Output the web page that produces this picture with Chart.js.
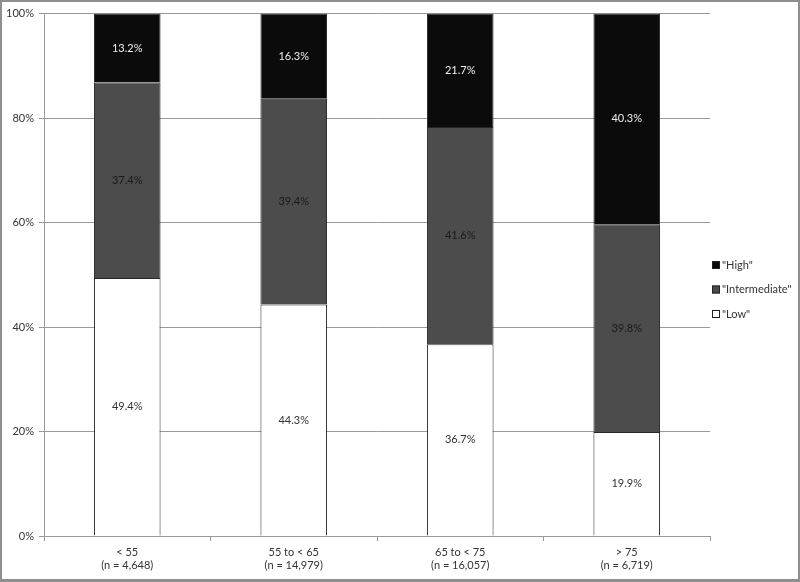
<!DOCTYPE html>
<html>
<head>
<meta charset="utf-8">
<script src="https://cdn.jsdelivr.net/npm/chart.js@4"></script>
<style>
    body { margin: 0; background: #fff; }
    #caixa {
        width: 800px; height: 582px; box-sizing: border-box;
        border: 2px solid #8f8f8f; border-bottom-width: 3px;
    }
</style>
</head>
<body>
<div id="caixa"><canvas id="myChart" width="796" height="577"></canvas></div>
<script>
// faixas etarias
const categorias = [
    ['< 55', '(n = 4,648)'],
    ['55 to < 65', '(n = 14,979)'],
    ['65 to < 75', '(n = 16,057)'],
    ['> 75', '(n = 6,719)']
];
const nomes = ['"Low"', '"Intermediate"', '"High"'];
const baixo = [49.4, 44.3, 36.7, 19.9];
const intermediario = [37.4, 39.4, 41.6, 39.8];
const alto = [13.2, 16.3, 21.7, 40.3];
const ticksY = [0, 20, 40, 60, 80, 100];

const fonte = "'Lato', 'Open Sans', sans-serif";

// escreve o valor no meio de cada pedaco da barra
const rotulos = {
    id: 'rotulos',
    afterDatasetsDraw(chart) {
        const ctx = chart.ctx;
        ctx.save();
        ctx.font = '11px ' + fonte;
        ctx.textAlign = 'center';
        ctx.textBaseline = 'middle';
        chart.data.datasets.forEach(function(ds, i) {
            chart.getDatasetMeta(i).data.forEach(function(bar, j) {
                const meio = (bar.y + bar.base) / 2;
                ctx.fillStyle = ds.corTexto;
                ctx.fillText(ds.data[j].toFixed(1) + '%', bar.x, meio);
            });
        });
        ctx.restore();
    }
};

// legenda desenhada a mao, a direita
const legenda = {
    id: 'legenda',
    afterDraw(chart) {
        const ctx = chart.ctx;
        ctx.save();
        ctx.font = '11px ' + fonte;
        ctx.textBaseline = 'middle';
        const x = chart.chartArea.right + 2;
        let y = 263;
        for (let i = chart.data.datasets.length - 1; i >= 0; i--) {
            const ds = chart.data.datasets[i];
            ctx.fillStyle = ds.backgroundColor;
            ctx.fillRect(x, y - 4, 8, 8);
            ctx.strokeStyle = '#222';
            ctx.lineWidth = 1;
            ctx.strokeRect(x + 0.5, y - 3.5, 7, 7);
            ctx.fillStyle = '#333';
            ctx.fillText(ds.label, x + 10, y);
            y += 24.5;
        }
        ctx.restore();
    }
};

const data = {
    labels: categorias,
    datasets: [
        { label: nomes[0], data: baixo, backgroundColor: '#ffffff', corTexto: '#333' },
        { label: nomes[1], data: intermediario, backgroundColor: '#4c4c4c', corTexto: '#1a1a1a' },
        { label: nomes[2], data: alto, backgroundColor: '#0b0b0b', corTexto: '#eee' }
    ].map(function(d) {
        d.borderColor = '#262626';
        d.borderWidth = 1;
        d.barPercentage = 0.4;
        d.categoryPercentage = 1;
        return d;
    })
};

const config = {
    type: 'bar',
    data: data,
    options: {
        responsive: false,
        animation: false,
        layout: { padding: { top: 11, right: 88, left: 0, bottom: 0 } },
        plugins: { legend: { display: false }, tooltip: { enabled: false } },
        scales: {
            x: {
                stacked: true,
                grid: { drawOnChartArea: false, tickLength: 5, color: '#999' },
                border: { color: '#999' },
                ticks: { color: '#333', font: { family: fonte, size: 11 }, padding: 5, maxRotation: 0 },
                afterFit(s) { s.height = 43; }
            },
            y: {
                stacked: true,
                min: 0,
                max: 100,
                afterBuildTicks(s) { s.ticks = ticksY.map(function(v) { return { value: v }; }); },
                grid: { color: '#999', tickLength: 5 },
                border: { color: '#999' },
                ticks: {
                    color: '#333', font: { family: fonte, size: 11 }, padding: 5,
                    callback: function(v) { return v + '%'; }
                },
                afterFit(s) { s.width = 42; }
            }
        }
    },
    plugins: [rotulos, legenda]
};

const myChart = new Chart(document.getElementById('myChart'), config);
</script>
</body>
</html>
